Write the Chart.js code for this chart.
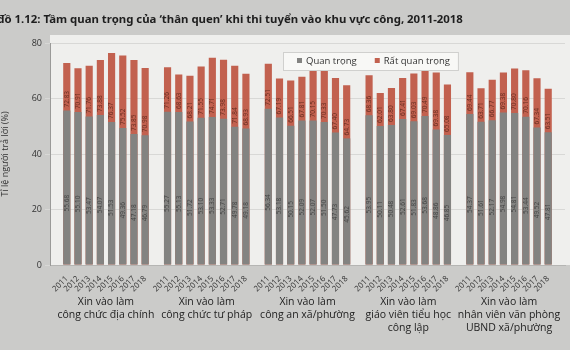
<!DOCTYPE html>
<html lang="vi">
<head>
<meta charset="utf-8">
<script src="https://cdn.jsdelivr.net/npm/chart.js@4.4.1/dist/chart.umd.min.js"></script>
<style>
  html, body { margin: 0; padding: 0; background: #cbcbc9; }
</style>
</head>
<body>
<canvas id="chart" width="570" height="350"></canvas>
<script>
const titleText = 'Biểu đồ 1.12: Tầm quan trọng của ‘thân quen’ khi thi tuyển vào khu vực công, 2011-2018';
const years = ['2011', '2012', '2013', '2014', '2015', '2016', '2017', '2018'];
const groups = [
    ['Xin vào làm', 'công chức địa chính'],
    ['Xin vào làm', 'công chức tư pháp'],
    ['Xin vào làm', 'công an xã/phường'],
    ['Xin vào làm', 'giáo viên tiểu học', 'công lập'],
    ['Xin vào làm', 'nhân viên văn phòng', 'UBND xã/phường']
];
const seriesNames = ['Quan trọng', 'Rất quan trọng'];

// phần xám: "Quan trọng"
const quanTrong = [
    [55.68, 55.10, 53.47, 54.07, 51.53, 49.36, 47.18, 46.79],
    [55.27, 55.13, 51.72, 53.10, 53.33, 52.71, 49.78, 49.18],
    [56.34, 53.18, 50.15, 52.09, 52.07, 51.50, 47.73, 45.62],
    [53.95, 50.11, 50.48, 52.61, 51.83, 53.68, 48.86, 46.85],
    [54.37, 51.61, 52.17, 54.98, 54.81, 53.44, 49.52, 47.81]
];
// đỉnh cột đỏ (quan trọng + rất quan trọng), như số in trên phần đỏ
const tongSo = [
    [72.83, 70.91, 71.76, 73.88, 76.37, 75.52, 73.85, 70.98],
    [71.26, 68.63, 68.21, 71.55, 74.71, 73.98, 71.84, 68.93],
    [72.51, 67.19, 66.51, 67.81, 70.15, 70.33, 67.40, 64.73],
    [68.36, 62.01, 63.80, 67.41, 69.03, 70.49, 69.38, 65.08],
    [69.44, 63.71, 66.77, 69.38, 70.80, 70.16, 67.34, 63.51]
];

const colors = ['#838381', '#c2614f'];

// one empty slot in front, one after each group
const labels = [''];
const grayData = [null];
const redData = [null];
groups.forEach((g, i) => {
    years.forEach((y, j) => {
        labels.push(y);
        grayData.push(quanTrong[i][j]);
        redData.push(tongSo[i][j]);
    });
    labels.push('');
    grayData.push(null);
    redData.push(null);
});

const background = {
    id: 'background',
    beforeDraw(chart) {
        const { ctx, chartArea: a } = chart;
        ctx.save();
        ctx.fillStyle = '#cbcbc9';
        ctx.fillRect(0, 0, chart.width, chart.height);
        ctx.fillStyle = '#efefed';
        ctx.fillRect(a.left, a.top - 8, chart.width - a.left, a.bottom - a.top + 8);
        ctx.restore();
    }
};

const barLabels = {
    id: 'barLabels',
    afterDatasetsDraw(chart) {
        const { ctx } = chart;
        const y = chart.scales.y;
        const meta = chart.getDatasetMeta(0);
        ctx.save();
        ctx.font = '6.5px "Open Sans"';
        ctx.textBaseline = 'middle';
        meta.data.forEach((el, i) => {
            const g = grayData[i];
            if (g == null) return;
            // gray value
            ctx.save();
            ctx.translate(el.x, y.getPixelForValue(g * 0.4));
            ctx.rotate(-Math.PI / 2);
            ctx.textAlign = 'center';
            ctx.fillStyle = 'rgba(45,45,45,0.75)';
            ctx.fillText(g.toFixed(2), 0, 0);
            ctx.restore();
            // red value, inside base of red part
            ctx.save();
            ctx.translate(el.x, el.y - 3);
            ctx.rotate(-Math.PI / 2);
            ctx.textAlign = 'left';
            ctx.fillStyle = 'rgba(70,25,15,0.75)';
            ctx.fillText(redData[i].toFixed(2), 0, 0);
            ctx.restore();
        });
        ctx.restore();
    }
};

const extraText = {
    id: 'extraText',
    afterDraw(chart) {
        const { ctx } = chart;
        const x = chart.scales.x;
        ctx.save();
        // title, cut on the left like the photo
        ctx.font = 'bold 11.4px "Noto Sans"';
        ctx.fillStyle = '#1e1e1e';
        ctx.textAlign = 'left';
        ctx.textBaseline = 'middle';
        ctx.fillText(titleText, -31, 20);

        // group names
        ctx.font = '10.5px "Open Sans"';
        ctx.fillStyle = '#222';
        ctx.textAlign = 'center';
        groups.forEach((lines, i) => {
            const first = 1 + i * 9;
            const cx = (x.getPixelForValue(first + 3) + x.getPixelForValue(first + 4)) / 2;
            lines.forEach((t, k) => ctx.fillText(t, cx, 302 + k * 13));
        });

        // legend box
        ctx.font = '9.5px "Open Sans"';
        ctx.textAlign = 'left';
        const bx = 283, by = 52, bh = 18;
        let w = 14;
        seriesNames.forEach((n, k) => { w += 9 + ctx.measureText(n).width + (k ? 8 : 18); });
        ctx.fillStyle = '#f8f8f6';
        ctx.strokeStyle = '#d0d0ce';
        ctx.lineWidth = 1;
        ctx.fillRect(bx, by, w, bh);
        ctx.strokeRect(bx + 0.5, by + 0.5, w, bh);
        let px = bx + 14;
        seriesNames.forEach((n, k) => {
            ctx.fillStyle = colors[k];
            ctx.fillRect(px, by + 6, 5, 5);
            px += 9;
            ctx.fillStyle = '#333';
            ctx.fillText(n, px, by + bh / 2 + 0.5);
            px += ctx.measureText(n).width + 18;
        });
        ctx.restore();
    }
};

new Chart(document.getElementById('chart'), {
    type: 'bar',
    data: {
        labels,
        datasets: [
            {
                label: seriesNames[0],
                data: grayData,
                backgroundColor: colors[0],
                order: 0
            },
            {
                label: seriesNames[1],
                data: redData,
                backgroundColor: colors[1],
                order: 1
            }
        ]
    },
    options: {
        responsive: false,
        animation: false,
        devicePixelRatio: 1,
        layout: { padding: { top: 43, right: 5, left: 0, bottom: 0 } },
        datasets: {
            bar: { categoryPercentage: 1, barPercentage: 0.64 }
        },
        scales: {
            x: {
                stacked: true,
                grid: { display: false },
                border: { color: '#b5b5b3' },
                ticks: {
                    autoSkip: false,
                    maxRotation: 45,
                    minRotation: 45,
                    padding: 1,
                    color: '#333',
                    font: { size: 8, family: 'Open Sans' }
                },
                afterFit(s) { s.height = 85; }
            },
            y: {
                min: 0,
                max: 80,
                grid: { color: '#d8d8d6', tickLength: 5 },
                border: { color: '#9a9a98' },
                ticks: {
                    stepSize: 20,
                    padding: 3,
                    color: '#333',
                    font: { size: 9, family: 'Open Sans' }
                },
                title: {
                    display: true,
                    text: 'Tỉ lệ người trả lời (%)',
                    color: '#333',
                    padding: { top: 0, bottom: 4 },
                    font: { size: 9, family: 'Open Sans' }
                },
                afterFit(s) { s.width = 50; }
            }
        },
        plugins: {
            legend: { display: false },
            tooltip: { enabled: false }
        }
    },
    plugins: [background, barLabels, extraText]
});
</script>
</body>
</html>
